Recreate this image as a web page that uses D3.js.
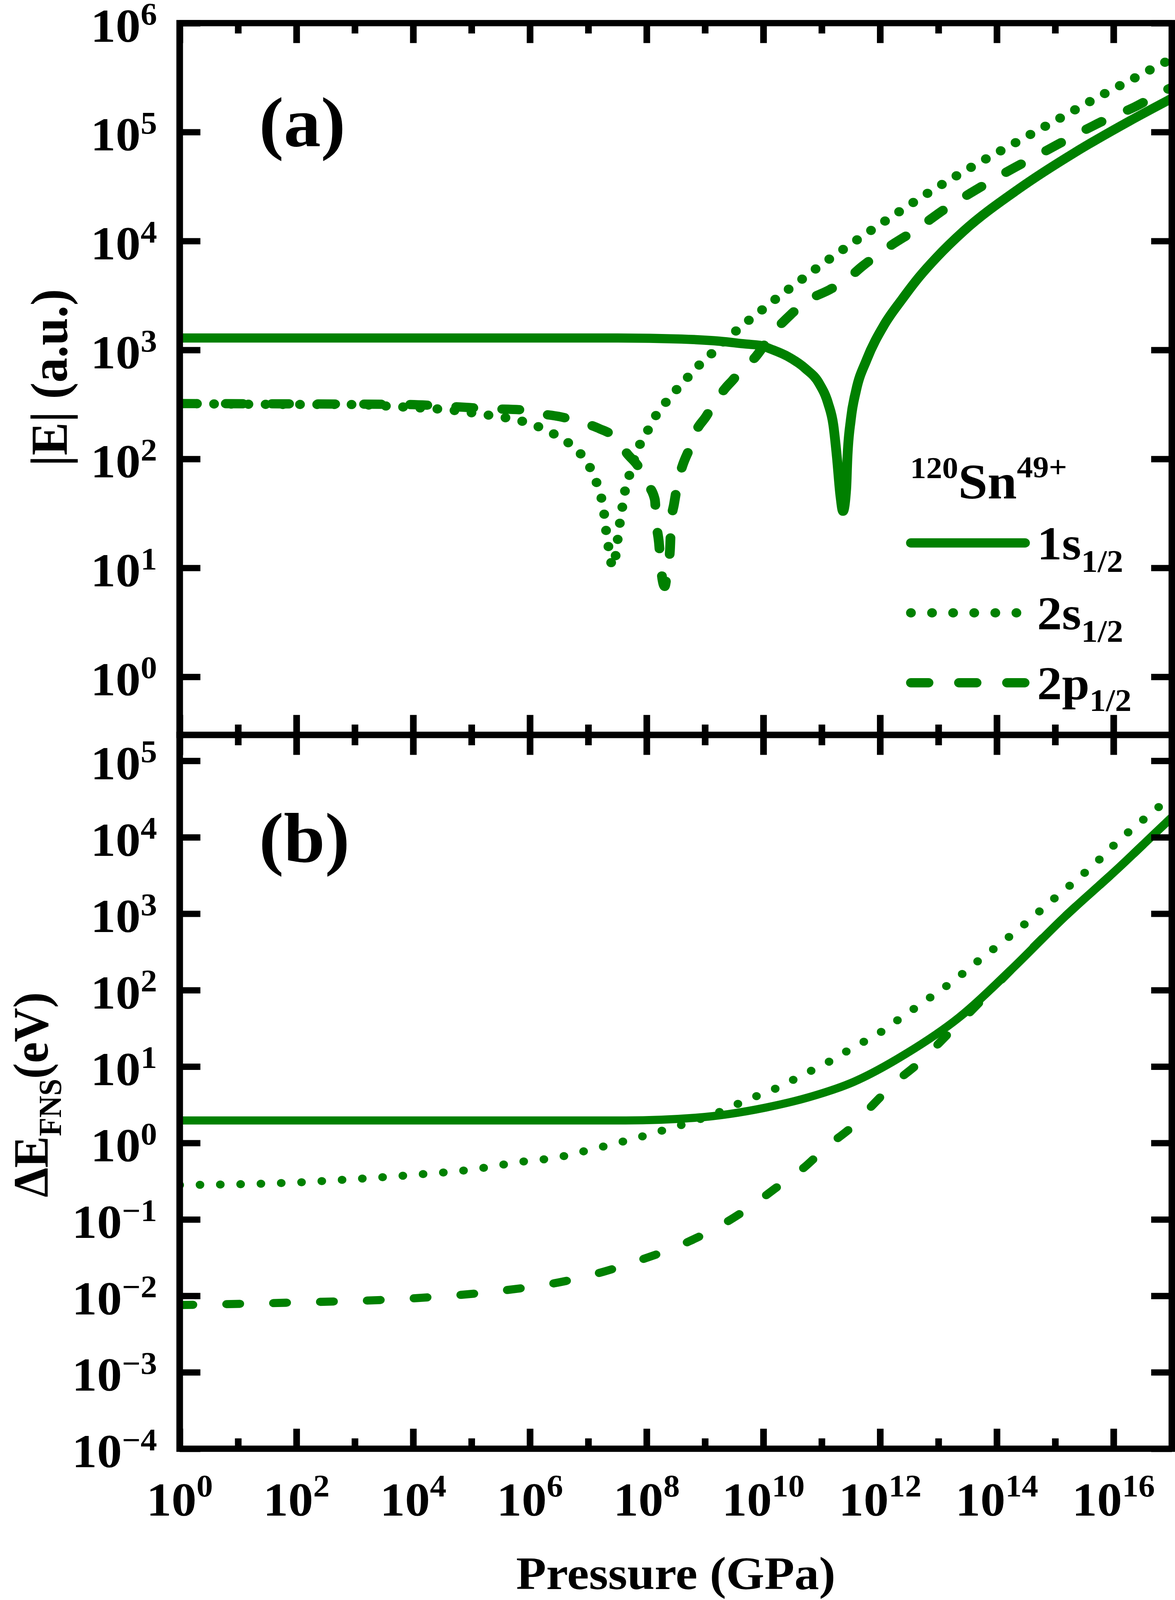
<!DOCTYPE html>
<html>
<head>
<meta charset="utf-8">
<script src="https://cdn.jsdelivr.net/npm/d3@7"></script>
<style>
  html, body { margin: 0; padding: 0; background: #fff; overflow: hidden; }
  svg { display: block; width: 100vw; height: 100vh; }
  text { font-family: "Liberation Serif", "Times New Roman", serif; font-weight: bold; fill: #000; }
</style>
</head>
<body>
<svg id="chart" viewBox="0 0 3008 4326" preserveAspectRatio="none"></svg>
<script>
// values, as [log10 P (GPa), log10 value]
// panel (a): |E| in a.u.
const a1s = [[0,3.11],[2,3.11],[4,3.11],[6,3.11],[7.5,3.11],[8.6,3.10],[9.26,3.08],[9.69,3.055],[9.97,3.04],
  [10.12,3.01],[10.42,2.94],[10.72,2.83],[10.96,2.69],[11.11,2.51],[11.2,2.31],[11.26,2.02],[11.32,1.665],
  [11.365,1.52],[11.42,1.725],[11.44,2.0],[11.5,2.365],[11.59,2.63],[11.77,2.91],[12.07,3.23],[12.37,3.46],
  [12.67,3.67],[12.97,3.85],[13.43,4.09],[14.38,4.48],[15.33,4.81],[16.27,5.1],[16.93,5.29],[17,5.31]];
const a2s = [[0,2.508],[2.1,2.50],[2.83,2.50],[3.85,2.476],[4.72,2.444],[5.18,2.41],[5.52,2.384],[5.81,2.354],
  [6.08,2.31],[6.3,2.258],[6.57,2.18],[6.81,2.08],[6.99,1.96],[7.12,1.815],[7.2,1.687],[7.26,1.55],[7.3,1.365],
  [7.35,1.183],[7.42,1.01],[7.48,1.15],[7.52,1.33],[7.57,1.507],[7.62,1.68],[7.71,1.86],[7.9,2.15],[8.04,2.28],
  [8.15,2.39],[8.33,2.52],[8.47,2.61],[8.65,2.716],[8.85,2.835],[9.03,2.925],[9.2,3.01],[9.4,3.12],[9.62,3.21],
  [9.81,3.30],[10.02,3.385],[10.21,3.467],[10.39,3.54],[10.59,3.62],[10.93,3.757],[11.55,3.99],[12.16,4.21],
  [12.91,4.47],[13.57,4.68],[14.38,4.92],[15.09,5.13],[15.75,5.325],[16.41,5.51],[16.88,5.64],[17,5.67]];
const a2p = [[0,2.508],[2,2.505],[3.87,2.50],[4.69,2.48],[5.35,2.46],[5.84,2.451],[6.14,2.418],[6.52,2.387],
  [6.78,2.353],[7.19,2.278],[7.42,2.214],[7.68,2.04],[7.87,1.92],[8.0,1.78],[8.14,1.63],[8.17,1.40],[8.21,1.24],
  [8.25,0.98],[8.31,0.83],[8.36,1.0],[8.40,1.16],[8.42,1.42],[8.47,1.585],[8.55,1.82],[8.61,1.93],[8.76,2.125],
  [8.85,2.256],[9.02,2.39],[9.11,2.47],[9.36,2.656],[9.47,2.72],[9.66,2.84],[9.83,2.915],[10.17,3.16],[10.48,3.33],
  [10.69,3.43],[11.14,3.555],[11.39,3.63],[11.7,3.77],[12.16,3.95],[12.63,4.11],[13.1,4.29],[13.55,4.44],
  [14.19,4.64],[14.85,4.83],[15.37,4.98],[15.89,5.12],[16.36,5.23],[16.88,5.38],[17,5.41]];
// panel (b): ΔE_FNS in eV
const b1s = [[0,0.295],[4,0.295],[7.64,0.295],[8.84,0.33],[10.04,0.463],[10.76,0.594],[11.55,0.80],[12.45,1.17],
  [13.35,1.64],[14.25,2.27],[15.15,2.95],[16.06,3.58],[16.93,4.21],[17,4.26]];
const b2s = [[0,-0.55],[1.99,-0.517],[2.7,-0.486],[4.04,-0.415],[4.98,-0.35],[5.87,-0.244],[6.46,-0.19],[7.04,-0.087],
  [7.6,0.02],[7.93,0.087],[8.48,0.21],[8.75,0.27],[9.26,0.41],[9.74,0.57],[10.22,0.715],[10.64,0.877],[11.13,1.065],
  [11.54,1.25],[11.97,1.43],[12.38,1.65],[12.81,1.877],[13.29,2.14],[13.71,2.4],[14.1,2.63],[14.52,2.89],
  [14.91,3.15],[15.27,3.38],[15.69,3.66],[16.11,3.97],[16.51,4.23],[16.78,4.4],[16.93,4.53],[17,4.57]];
const b2p = [[0,-2.12],[1.82,-2.09],[4.04,-2.03],[5.43,-1.94],[6.62,-1.805],[7.26,-1.685],[7.82,-1.55],[8.72,-1.29],
  [9.38,-1.03],[9.86,-0.79],[10.22,-0.585],[10.7,-0.32],[11.07,-0.06],[11.54,0.227],[11.9,0.517],[12.2,0.75],
  [12.69,1.065],[13.17,1.43],[13.59,1.75],[14.25,2.27],[15.15,2.95],[16.06,3.58],[16.93,4.21],[17,4.26]];

const xExpMajor = [0, 2, 4, 6, 8, 10, 12, 14, 16];
const xExpMinor = [1, 3, 5, 7, 9, 11, 13, 15, 17];
const yExpA = [0, 1, 2, 3, 4, 5, 6];
const yExpB = [-4, -3, -2, -1, 0, 1, 2, 3, 4, 5];
const levels = ["1s", "2s", "2p"];

const green = "#008000";
const svg = d3.select("#chart");
const left = 460, right = 3000;

const x = d3.scaleLog().domain([1, 1e17]).range([left, right]);

const panels = [
  {id: "a", top: 62.5, bottom: 1987, domain: [Math.pow(10, -0.533), 1e6], exps: yExpA,
   series: [a1s, a2s, a2p], width: 25, dots: "0,44", dashes: "44,74",
   label: "(a)", labelY: 395},
  {id: "b", top: 1987, bottom: 3917, domain: [1e-4, Math.pow(10, 5.339)], exps: yExpB,
   series: [b1s, b2s, b2p], width: 22, dots: "0,52", dashes: "34,86",
   label: "(b)", labelY: 2330}
];

function styleFor(p, i) {
  if (i === 1) return p.dots;
  if (i === 2) return p.dashes;
  return null;
}

// "10" with a raised exponent
function powText(sel, e, base, sup, rise) {
  sel.append("tspan").attr("font-size", base).text("10");
  sel.append("tspan").attr("font-size", sup).attr("dy", -rise)
    .text(e < 0 ? "\u2212" + (-e) : String(e));
}

panels.forEach(p => {
  const y = d3.scaleLog().domain(p.domain).range([p.bottom, p.top]);
  const g = svg.append("g").attr("id", "panel-" + p.id);

  g.append("clipPath").attr("id", "clip-" + p.id)
    .append("rect")
    .attr("x", left).attr("y", p.top)
    .attr("width", right - left).attr("height", p.bottom - p.top);

  const line = d3.line()
    .x(d => x(Math.pow(10, d[0])))
    .y(d => y(Math.pow(10, d[1])))
    .curve(d3.curveMonotoneX);

  g.append("g").attr("clip-path", "url(#clip-" + p.id + ")")
    .selectAll("path")
    .data(p.series)
    .join("path")
    .attr("d", line)
    .attr("fill", "none")
    .attr("stroke", green)
    .attr("stroke-width", p.width)
    .attr("stroke-linecap", "round")
    .attr("stroke-linejoin", "round")
    .attr("stroke-dasharray", (d, i) => styleFor(p, i));

  // ticks, all pointing inwards
  const yVals = p.exps.map(e => Math.pow(10, e));
  const xMaj = xExpMajor.map(e => Math.pow(10, e));
  const xMin = xExpMinor.map(e => Math.pow(10, e));
  const axes = [
    [d3.axisLeft(y).tickValues(yVals).tickSize(-53), `translate(${left},0)`],
    [d3.axisRight(y).tickValues(yVals).tickSize(-53), `translate(${right},0)`],
    [d3.axisTop(x).tickValues(xMaj).tickSize(-54), `translate(0,${p.top})`],
    [d3.axisTop(x).tickValues(xMin).tickSize(-28), `translate(0,${p.top})`],
    [d3.axisBottom(x).tickValues(xMaj).tickSize(-54), `translate(0,${p.bottom})`],
    [d3.axisBottom(x).tickValues(xMin).tickSize(-28), `translate(0,${p.bottom})`]
  ];
  axes.forEach(([ax, tr]) => {
    const a = g.append("g").attr("transform", tr).call(ax.tickFormat(""));
    a.select(".domain").remove();
    a.selectAll(".tick line").attr("stroke", "#000").attr("stroke-width", 17);
    a.selectAll(".tick text").remove();
  });

  g.append("rect")
    .attr("x", left).attr("y", p.top)
    .attr("width", right - left).attr("height", p.bottom - p.top)
    .attr("fill", "none").attr("stroke", "#000").attr("stroke-width", 17);

  // y tick labels
  g.selectAll("text.ylab")
    .data(p.exps)
    .join("text")
    .attr("class", "ylab")
    .attr("x", 402)
    .attr("y", e => y(Math.pow(10, e)) + 50)
    .attr("text-anchor", "end")
    .each(function (e) { powText(d3.select(this), e, 128, 84, 46); });

  g.append("text")
    .attr("x", 663).attr("y", p.labelY)
    .attr("font-size", 190)
    .text(p.label);
});

// x tick labels under panel (b)
svg.selectAll("text.xlab")
  .data(xExpMajor)
  .join("text")
  .attr("class", "xlab")
  .attr("x", e => x(Math.pow(10, e)))
  .attr("y", 4098)
  .attr("text-anchor", "middle")
  .each(function (e) { powText(d3.select(this), e, 128, 84, 52); });

// axis titles
svg.append("text")
  .attr("x", 1730).attr("y", 4296)
  .attr("text-anchor", "middle")
  .attr("font-size", 126)
  .text("Pressure (GPa)");

svg.append("text")
  .attr("transform", "translate(171,1021) rotate(-90)")
  .attr("text-anchor", "middle")
  .attr("font-size", 134)
  .text("|E| (a.u.)");

const tb = svg.append("text")
  .attr("transform", "translate(122,2960) rotate(-90)")
  .attr("text-anchor", "middle")
  .attr("font-size", 128);
tb.append("tspan").text("\u0394E");
tb.append("tspan").attr("font-size", 82).attr("dy", 34).text("FNS");
tb.append("tspan").attr("dy", -34).text("(eV)");

// legend
const ion = svg.append("text").attr("x", 2330);
ion.append("tspan").attr("y", 1293).attr("font-size", 82).text("120");
ion.append("tspan").attr("y", 1348).attr("font-size", 135).text("Sn");
ion.append("tspan").attr("y", 1291).attr("font-size", 82).text("49+");

const legendRows = [1468, 1657, 1846];
const legendDash = [null, "0,54", "45,78"];
const legendEnd = [2624, 2605, 2624];
const legendBase = [1512, 1701, 1890];
const legendSub = [1546, 1735, 1922];

levels.forEach((lv, i) => {
  svg.append("path")
    .attr("d", d3.line()([[2332, legendRows[i]], [legendEnd[i], legendRows[i]]]))
    .attr("fill", "none")
    .attr("stroke", green)
    .attr("stroke-width", 25)
    .attr("stroke-linecap", "round")
    .attr("stroke-dasharray", legendDash[i]);
  const t = svg.append("text").attr("x", 2655);
  t.append("tspan").attr("y", legendBase[i]).attr("font-size", 127).text(lv);
  t.append("tspan").attr("y", legendSub[i]).attr("font-size", 84).text("1/2");
});
</script>
</body>
</html>
